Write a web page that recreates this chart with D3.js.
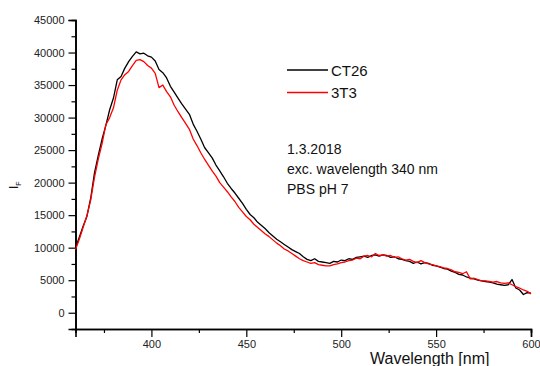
<!DOCTYPE html>
<html>
<head>
<meta charset="utf-8">
<script src="https://cdn.jsdelivr.net/npm/d3@7"></script>
<style>
  html, body { margin: 0; padding: 0; background: #fff; }
  svg { display: block; font-family: "Liberation Sans", Arial, sans-serif; }
</style>
</head>
<body>
<div id="chart"></div>
<script>
const wavelengths = [360,362,364,366,368,370,372,374,376,378,380,382,384,386,388,390,392,394,396,398,
400,402,404,406,408,410,412,414,416,418,420,422,424,426,428,430,432,434,436,438,
440,442,444,446,448,450,452,454,456,458,460,462,464,466,468,470,472,474,476,478,
480,482,484,486,488,490,492,494,496,498,500,502,504,506,508,510,512,514,516,518,
520,522,524,526,528,530,532,534,536,538,540,542,544,546,548,550,552,554,556,558,
560,562,564,566,568,570,572,574,576,578,580,582,584,586,588,590,592,594,596,598,600];

const ct26 = [10000,11600,13300,14800,17600,21500,24200,26700,28800,31200,33000,35800,36300,37600,38600,39400,40100,39800,39900,39500,
39300,38700,37400,36900,36100,34800,33900,33000,32100,31300,30500,29000,27900,26700,25400,24600,23800,22700,21800,20900,
19900,19100,18400,17600,16800,15900,15100,14600,13900,13400,12900,12300,11800,11300,10900,10500,10100,9700,9400,9100,
8600,8200,8000,8300,7900,7800,7700,7600,7900,7800,8100,8000,8300,8200,8500,8600,8700,8500,8800,8900,
8700,8900,8800,8500,8600,8300,8200,8000,7900,7600,7800,7500,7700,7600,7300,7200,7000,6800,6700,6400,
6200,5900,5800,5500,5300,5200,5000,4900,4800,4700,4600,4400,4300,4200,4300,5100,3800,3500,2800,3100,3000];

const t3t3 = [9700,11300,13100,14900,17300,20800,23600,26000,28900,30000,31500,34200,35800,36600,37100,38000,38800,38900,38600,38000,
37600,36800,34600,35000,34000,33200,31900,30900,30000,29100,28200,26700,25700,24600,23600,22700,21800,21000,20000,19300,
18600,17800,17100,16200,15500,14800,14300,13600,13100,12600,12100,11700,11200,10700,10300,9800,9500,9100,8700,8300,
8000,7800,7600,7700,7400,7300,7200,7200,7400,7500,7700,7800,8000,8100,8400,8300,8700,8800,8600,9100,
8800,8900,8700,8800,8500,8600,8300,8100,8200,7900,7700,8000,7700,7500,7400,7200,7100,6900,6800,6600,
6300,6200,6000,6300,5200,5300,5100,4900,4900,4800,4700,4800,4600,4500,4600,4300,4000,3800,3500,3300,2900];

const seriesNames = ["CT26", "3T3"];
const seriesColors = ["#000000", "#ff0000"];
const xMajorTicks = [400, 450, 500, 550, 600];
const xMinorTicks = [375, 425, 475, 525, 575];
const yMajorTicks = [0, 5000, 10000, 15000, 20000, 25000, 30000, 35000, 40000, 45000];
const yMinorTicks = [2500, 7500, 12500, 17500, 22500, 27500, 32500, 37500, 42500];
const annotationLines = ["1.3.2018", "exc. wavelength 340 nm", "PBS pH 7"];

const W = 540, H = 366;
const svg = d3.select("#chart").append("svg").attr("width", W).attr("height", H);

const x = d3.scaleLinear().domain([360, 600]).range([75.5, 531]);
const y = d3.scaleLinear().domain([-2500, 45000]).range([329, 20]);

// axes
const gx = svg.append("g").attr("transform", "translate(0,329)");
gx.call(d3.axisBottom(x).tickValues(xMajorTicks).tickSize(8).tickPadding(3).tickFormat(d3.format("d")));
const gxm = svg.append("g").attr("transform", "translate(0,329)");
gxm.call(d3.axisBottom(x).tickValues(xMinorTicks).tickSize(4).tickFormat(""));
const gy = svg.append("g").attr("transform", "translate(75.5,0)");
gy.call(d3.axisLeft(y).tickValues(yMajorTicks).tickSize(7).tickPadding(4).tickFormat(d3.format("d")));
const gym = svg.append("g").attr("transform", "translate(75.5,0)");
gym.call(d3.axisLeft(y).tickValues(yMinorTicks).tickSize(4).tickFormat(""));

[gx, gxm, gy, gym].forEach(g => {
  g.selectAll(".domain").attr("stroke", "#000").attr("stroke-width", 1.6);
  g.selectAll(".tick line").attr("stroke", "#000").attr("stroke-width", 1.2);
  g.selectAll(".tick text").attr("fill", "#222").style("font-size", "11px")
    .style("font-family", '"Liberation Sans", Arial, sans-serif');
});

// lines
const line = d3.line().x((d, i) => x(wavelengths[i])).y(d => y(d));
const data = [ct26, t3t3];
data.forEach((s, k) => {
  svg.append("path").datum(s).attr("d", line)
    .attr("fill", "none").attr("stroke", seriesColors[k]).attr("stroke-width", 1.3)
    .attr("stroke-linejoin", "round");
});

// legend
const legY = [70, 92.5];
seriesNames.forEach((n, k) => {
  svg.append("line").attr("x1", 287).attr("x2", 328).attr("y1", legY[k]).attr("y2", legY[k])
    .attr("stroke", seriesColors[k]).attr("stroke-width", 1.3);
  svg.append("text").attr("x", 331).attr("y", legY[k] + 5.5).text(n)
    .style("font-size", "15px").attr("fill", "#111");
});

// annotation
annotationLines.forEach((t, i) => {
  svg.append("text").attr("x", 287).attr("y", 154 + i * 20).text(t)
    .style("font-size", "14px").attr("fill", "#111");
});

// axis titles
svg.append("text").attr("x", 370).attr("y", 364).text("Wavelength [nm]")
  .style("font-size", "16px").attr("fill", "#111");

const yl = svg.append("text").attr("transform", "translate(18,189) rotate(-90)")
  .style("font-size", "12px").attr("fill", "#111");
yl.append("tspan").text("I");
yl.append("tspan").attr("dy", 3).style("font-size", "7px").text("F");
</script>
</body>
</html>
